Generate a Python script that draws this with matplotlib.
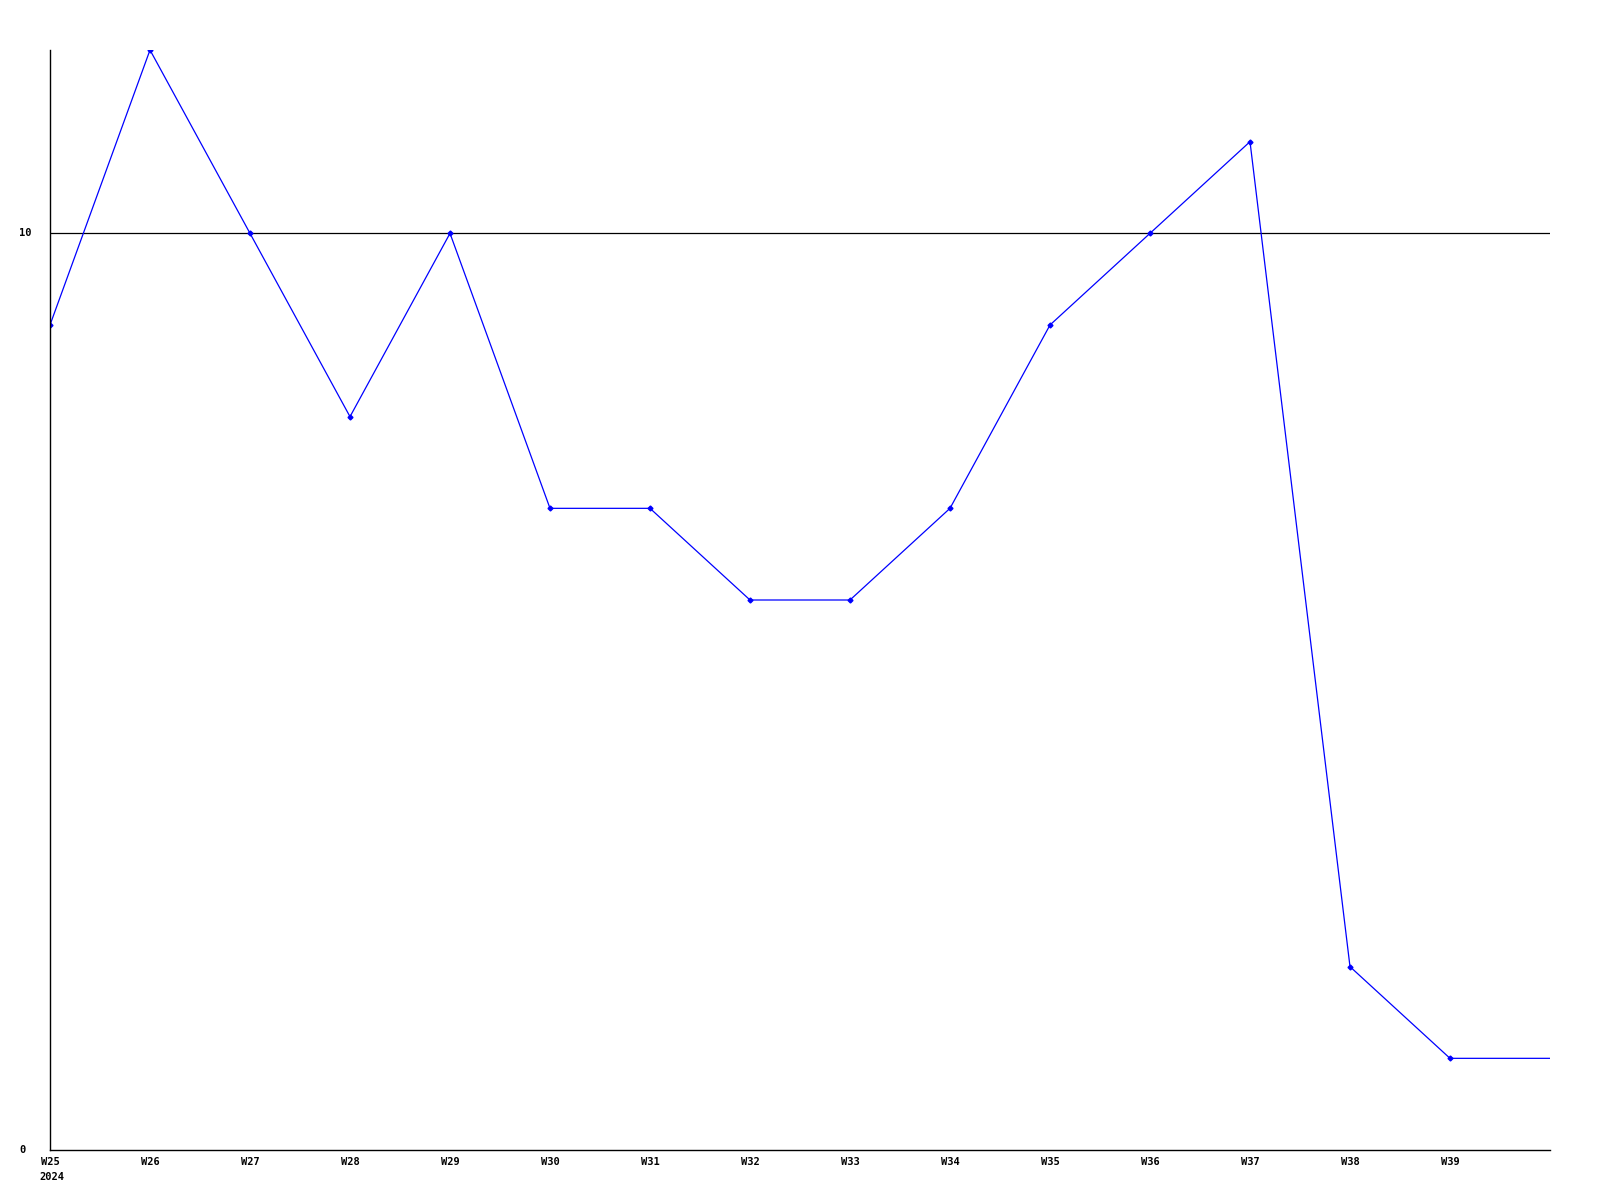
import matplotlib
matplotlib.use('Agg')
import matplotlib.pyplot as plt
import numpy as np

# weekly values
weeks = ['W25', 'W26', 'W27', 'W28', 'W29', 'W30', 'W31', 'W32',
         'W33', 'W34', 'W35', 'W36', 'W37', 'W38', 'W39']
values = [9, 12, 10, 8, 10, 7, 7, 6, 6, 7, 9, 10, 11, 2, 1]
tail_value = 1   # line runs on to the right edge with no marker
ref_level = 10
year_label = '2024'

fig = plt.figure(figsize=(16, 12), dpi=100)
ax = fig.add_axes([50/1600, 50/1200, 1500/1600, 1100/1200])

x = np.arange(len(weeks))
ax.plot(list(x) + [len(weeks)], values + [tail_value], color='#0000ff', lw=0.9,
        marker='D', markersize=2.5, markevery=list(range(len(weeks))))
ax.axhline(ref_level, color='black', lw=0.9, zorder=1)

ax.set_xlim(0, len(weeks))
ax.set_ylim(0, 12)
for s in ['top', 'right']:
    ax.spines[s].set_visible(False)
for s in ['left', 'bottom']:
    ax.spines[s].set_linewidth(1.0)
ax.set_xticks([])
ax.set_yticks([])

fnt = dict(family='DejaVu Sans Mono', weight='bold', fontsize=7.5)
for i, w in enumerate(weeks):
    ax.text(i, -0.13, w, ha='center', va='center', **fnt)
ax.text(-0.105, -0.30, year_label, ha='left', va='center', **fnt)
for v in [0, ref_level]:
    ax.text(-0.31, v, str(v), ha='left', va='center', **fnt)

fig.savefig('out.png', dpi=100)
